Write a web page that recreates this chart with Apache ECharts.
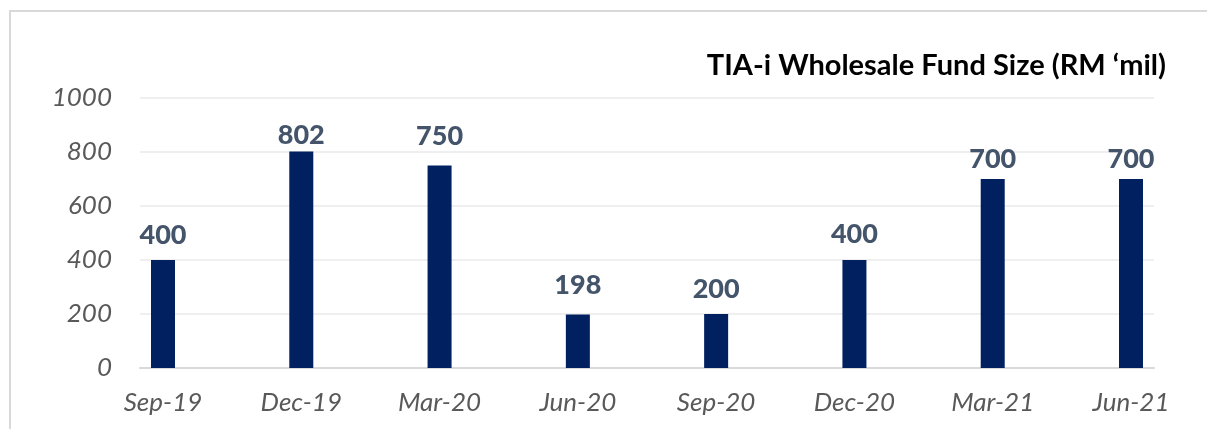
<!DOCTYPE html>
<html>
<head>
<meta charset="utf-8">
<script src="https://cdn.jsdelivr.net/npm/echarts@6/dist/echarts.min.js"></script>
<style>
  html, body { margin: 0; padding: 0; background: #fff; }
  #main { width: 1207px; height: 429px; }
</style>
</head>
<body>
<div id="main"></div>
<script>
// quarters and fund size (RM mil)
var quarters = ['Sep-19', 'Dec-19', 'Mar-20', 'Jun-20', 'Sep-20', 'Dec-20', 'Mar-21', 'Jun-21'];
var fundSize = [400, 802, 750, 198, 200, 400, 700, 700];
var yTicks = [0, 200, 400, 600, 800, 1000];
// data labels were nudged by hand in the original, shift them the same way (px)
var labelNudge = [1, 9, -4, -4, 1, 0, 6, 6];

var myChart = echarts.init(document.getElementById('main'));
var font = 'Lato, "Open Sans", sans-serif';

var barData = fundSize.map(function (v, i) {
    return { value: v, label: { offset: [0, labelNudge[i]] } };
});

var option = {
    animation: false,
    title: {
        text: 'TIA-i Wholesale Fund Size (RM \u2018mil)',
        right: 36,
        top: 46,
        textStyle: { fontFamily: font, fontWeight: 'bold', fontSize: 29, color: '#000' }
    },
    graphic: [{
        type: 'rect',
        shape: { x: 10, y: 11, width: 1400, height: 600 },
        style: { fill: null, stroke: '#d9d9d9', lineWidth: 2 },
        silent: true
    }],
    grid: [
        // background grid: gridlines, y labels, baseline
        { left: 140, right: 53, top: 98, bottom: 61 },
        // bars
        { left: 163, right: 76, top: 98, bottom: 61 }
    ],
    xAxis: [{
        gridIndex: 0,
        type: 'value',
        min: 0, max: 1,
        axisLine: { show: true, onZero: false, lineStyle: { color: '#d9d9d9', width: 2 } },
        axisTick: { show: false },
        axisLabel: { show: false },
        splitLine: { show: false }
    }, {
        gridIndex: 1,
        type: 'category',
        data: quarters,
        boundaryGap: false,
        axisLine: { show: false },
        axisTick: { show: false },
        splitLine: { show: false },
        axisLabel: {
            margin: 22,
            fontFamily: font, fontStyle: 'italic', fontSize: 26, color: '#595959'
        }
    }],
    yAxis: [{
        gridIndex: 0,
        type: 'value',
        min: yTicks[0], max: yTicks[yTicks.length - 1], interval: 200,
        axisLine: { show: false },
        axisTick: { show: false },
        splitLine: { lineStyle: { color: '#efefef', width: 2 } },
        axisLabel: {
            margin: 28,
            formatter: function (v) { return String(v); },
            fontFamily: font, fontStyle: 'italic', fontSize: 26, color: '#595959'
        }
    }, {
        gridIndex: 1,
        type: 'value',
        min: yTicks[0], max: yTicks[yTicks.length - 1], interval: 200,
        show: false
    }],
    series: [{
        type: 'bar',
        xAxisIndex: 1,
        yAxisIndex: 1,
        data: barData,
        barWidth: 24,
        itemStyle: { color: '#002060' },
        label: {
            show: true,
            position: 'top',
            distance: 12,
            fontFamily: font, fontWeight: 900, fontSize: 27, color: '#44546a'
        }
    }]
};

myChart.setOption(option);
</script>
</body>
</html>
